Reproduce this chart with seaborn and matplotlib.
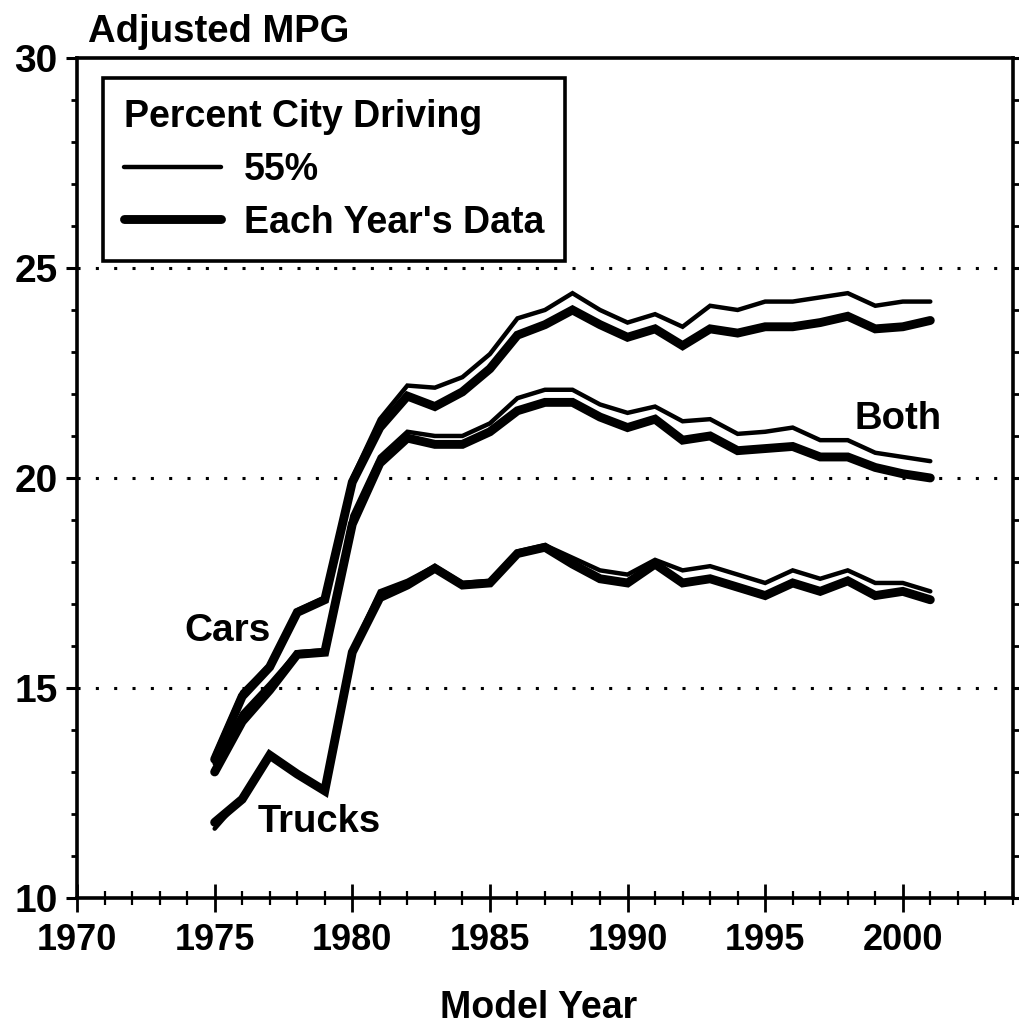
import pandas as pd
import matplotlib
matplotlib.use("Agg")
import matplotlib.pyplot as plt
import seaborn as sns
from matplotlib.lines import Line2D
from matplotlib.ticker import MultipleLocator

years = list(range(1975, 2002))

cars_55 = [13.4, 14.9, 15.55, 16.85, 17.15, 20.0, 21.4, 22.2, 22.15, 22.4, 22.95, 23.8, 24.0, 24.4,
           24.0, 23.7, 23.9, 23.6, 24.1, 24.0, 24.2, 24.2, 24.3, 24.4, 24.1, 24.2, 24.2]
cars_year = [13.3, 14.8, 15.5, 16.8, 17.1, 19.9, 21.2, 21.95, 21.7, 22.05, 22.6, 23.4, 23.65, 24.0,
             23.65, 23.35, 23.55, 23.15, 23.55, 23.45, 23.6, 23.6, 23.7, 23.85, 23.55, 23.6, 23.75]
both_55 = [13.2, 14.4, 15.1, 15.85, 15.9, 19.1, 20.5, 21.1, 21.0, 21.0, 21.3, 21.9, 22.1, 22.1,
           21.75, 21.55, 21.7, 21.35, 21.4, 21.05, 21.1, 21.2, 20.9, 20.9, 20.6, 20.5, 20.4]
both_year = [13.0, 14.2, 14.95, 15.8, 15.85, 18.9, 20.35, 20.95, 20.8, 20.8, 21.1, 21.6, 21.8, 21.8,
             21.45, 21.2, 21.4, 20.9, 21.0, 20.65, 20.7, 20.75, 20.5, 20.5, 20.25, 20.1, 20.0]
trucks_55 = [11.65, 12.4, 13.4, 12.95, 12.55, 15.9, 17.3, 17.55, 17.9, 17.5, 17.55, 18.25, 18.4, 18.1,
             17.8, 17.7, 18.05, 17.8, 17.9, 17.7, 17.5, 17.8, 17.6, 17.8, 17.5, 17.5, 17.3]
trucks_year = [11.8, 12.35, 13.4, 12.95, 12.55, 15.85, 17.15, 17.45, 17.85, 17.45, 17.5, 18.2, 18.35, 17.95,
               17.6, 17.5, 17.95, 17.5, 17.6, 17.4, 17.2, 17.5, 17.3, 17.55, 17.2, 17.3, 17.1]

group_labels = ["Cars", "Trucks", "Both"]
legend_title = "Percent City Driving"
legend_labels = ["55%", "Each Year's Data"]

sns.set_style("white")
plt.rcParams["font.family"] = ["Liberation Sans", "DejaVu Sans"]
plt.rcParams["font.weight"] = "bold"
plt.rcParams["text.color"] = "black"
plt.rcParams["xtick.color"] = "black"
plt.rcParams["ytick.color"] = "black"
plt.rcParams["axes.edgecolor"] = "black"

fig = plt.figure(figsize=(10.19, 10.28), dpi=100)
ax = fig.add_axes([0.0756, 0.1265, 0.9184, 0.8171])

thin, thick = 3.2, 6.4
for s55, syr in [(cars_55, cars_year), (both_55, both_year), (trucks_55, trucks_year)]:
    sns.lineplot(x=years, y=syr, ax=ax, color="black", linewidth=thick,
                 solid_capstyle="round", solid_joinstyle="miter")
    sns.lineplot(x=years, y=s55, ax=ax, color="black", linewidth=thin,
                 solid_capstyle="round", solid_joinstyle="miter")

# dotted reference lines
for yv in [15, 20, 25]:
    ax.axhline(yv, color="black", linewidth=2.2, linestyle=(0, (1, 5)), zorder=0)

ax.set_xlim(1970, 2004)
ax.set_ylim(10, 30)
ax.xaxis.set_minor_locator(MultipleLocator(1))
ax.yaxis.set_major_locator(MultipleLocator(5))
ax.yaxis.set_minor_locator(MultipleLocator(1))
ax.set_xticks([1970, 1975, 1980, 1985, 1990, 1995, 2000])

ax.tick_params(axis="x", which="major", direction="inout", length=20, width=2, pad=8,
               labelsize=26)
ax.tick_params(axis="x", which="minor", direction="inout", length=10, width=1.6)
ax.tick_params(axis="y", which="major", direction="out", length=8, width=2.2, pad=6,
               labelsize=28)
ax.tick_params(axis="y", which="minor", direction="out", length=4, width=2)
ax.tick_params(axis="y", which="both", left=True, right=True, labelright=False)
ax.tick_params(axis="x", which="both", bottom=True)
for t in ax.get_xticklabels() + ax.get_yticklabels():
    t.set_fontweight("bold")

for sp in ax.spines.values():
    sp.set_linewidth(2.6)

ax.set_xlabel("")
ax.set_ylabel("")

ax.text(1973.9, 16.12, group_labels[0], fontsize=28, fontweight="bold")
ax.text(1976.56, 11.57, group_labels[1], fontsize=27.5, fontweight="bold")
ax.text(1998.26, 21.17, group_labels[2], fontsize=27.5, fontweight="bold")

handles = [Line2D([], [], color="black", linewidth=thin, solid_capstyle="round"),
           Line2D([], [], color="black", linewidth=thick, solid_capstyle="round")]
leg = ax.legend(handles, legend_labels, title=legend_title, loc="upper left",
                bbox_to_anchor=(0.028, 0.976), borderaxespad=0, fancybox=False,
                frameon=True, edgecolor="black", title_fontsize=27,
                handlelength=2.6, handletextpad=0.6, labelspacing=0.45,
                borderpad=0.55, alignment="left",
                prop={"weight": "bold", "size": 27})
leg.get_frame().set_linewidth(2.6)
leg.get_frame().set_alpha(1)
leg.get_title().set_fontweight("bold")

fig.text(88 / 1019, 1 - 42 / 1028, "Adjusted MPG", fontsize=27.5, fontweight="bold",
         ha="left", va="baseline")
fig.text(539 / 1019, 1 - 1018 / 1028, "Model Year", fontsize=27, fontweight="bold",
         ha="center", va="baseline")

fig.savefig("out.png", dpi=100)
